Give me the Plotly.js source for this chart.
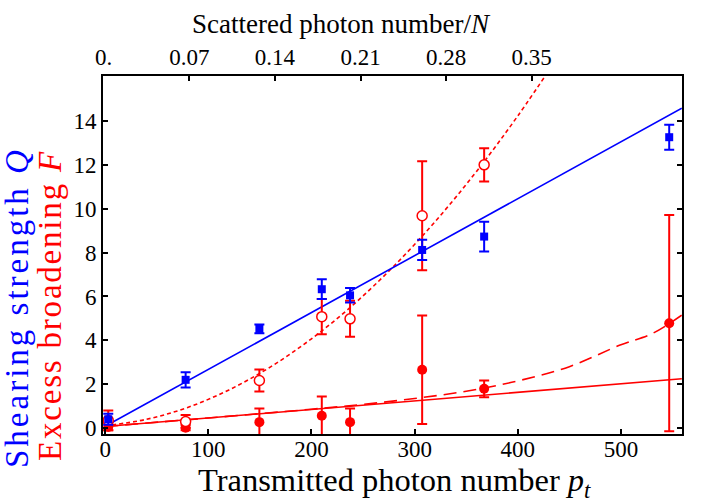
<!DOCTYPE html>
<html>
<head>
<meta charset="utf-8">
<script src="https://cdn.plot.ly/plotly-3.0.1.min.js"></script>
<style>
  html, body { margin: 0; padding: 0; background: #fff; }
  #chart { width: 717px; height: 502px; }
</style>
</head>
<body>
<div id="chart"></div>
<script>
// Transmitted photon number for each measurement
const pt = [3, 78, 149.5, 210, 237.4, 307.3, 367.4, 546.8];

// Shearing strength Q (blue squares) with errors
const shearQ = [0.4, 2.2, 4.52, 6.33, 6.05, 8.12, 8.73, 13.26];
const shearQErr = [0.25, 0.35, 0.2, 0.45, 0.33, 0.46, 0.68, 0.57];

// Excess broadening F, open circles (no point at the last pt)
const ptOpen = [3, 78, 149.5, 210, 237.4, 307.3, 367.4];
const broadOpen = [0.35, 0.3, 2.17, 5.08, 4.98, 9.68, 12.0];
const broadOpenErr = [0.45, 0.3, 0.5, 0.8, 0.82, 2.48, 0.76];

// Excess broadening F, filled circles
const broadFilled = [0.05, 0.02, 0.27, 0.56, 0.27, 2.66, 1.79, 4.78];
const broadFilledErr = [0.15, 0.12, 0.62, 0.88, 0.62, 2.47, 0.38, 4.93];

// Fit curves
const fitQPt = [0, 559];
const fitQ = [0.08, 14.58];
const fitLinPt = [0, 559];
const fitLin = [0.07, 2.25];
const fitOpenPt = [0, 40, 80, 120, 160, 200, 240, 280, 320, 360, 400, 440];
const fitOpen = [0.1, 0.4, 0.94, 1.74, 2.78, 4.07, 5.6, 7.39, 9.42, 11.7, 14.23, 17.0];
const fitDashPt = [0, 100, 200, 250, 300, 350, 400, 450, 500, 530, 559];
const fitDash = [0.07, 0.46, 0.86, 1.08, 1.35, 1.68, 2.15, 2.8, 3.8, 4.3, 5.15];

// Tick labels
const bottomTicks = [0, 100, 200, 300, 400, 500];
const topTicks = [0, 0.07, 0.14, 0.21, 0.28, 0.35];
const topTickText = ['0.', '0.07', '0.14', '0.21', '0.28', '0.35'];
const leftTicks = [0, 2, 4, 6, 8, 10, 12, 14];

const BLUE = '#0000ff';
const RED = '#ff0000';
const FONT = 'Liberation Serif';

const traces = [
  { x: fitLinPt, y: fitLin, mode: 'lines', line: { color: RED, width: 1.6 }, hoverinfo: 'skip' },
  { x: fitDashPt, y: fitDash, mode: 'lines', line: { color: RED, width: 1.6, dash: '13px,7px', shape: 'spline' }, hoverinfo: 'skip' },
  { x: fitOpenPt, y: fitOpen, mode: 'lines', line: { color: RED, width: 1.6, dash: '4px,3px', shape: 'spline' }, hoverinfo: 'skip' },
  { x: fitQPt, y: fitQ, mode: 'lines', line: { color: BLUE, width: 1.6 }, hoverinfo: 'skip' },
  {
    x: pt, y: broadFilled, mode: 'markers',
    marker: { color: RED, size: 10, symbol: 'circle' },
    error_y: { type: 'data', array: broadFilledErr, color: RED, thickness: 2, width: 5 }
  },
  {
    x: ptOpen, y: broadOpen, mode: 'markers',
    marker: { color: '#ffffff', size: 10, symbol: 'circle', line: { color: RED, width: 1.5 } },
    error_y: { type: 'data', array: broadOpenErr, color: RED, thickness: 2, width: 5 }
  },
  {
    x: pt, y: shearQ, mode: 'markers',
    marker: { color: BLUE, size: 8, symbol: 'square' },
    error_y: { type: 'data', array: shearQErr, color: BLUE, thickness: 2, width: 5 }
  },
  // invisible trace that carries the top axis
  { x: [0, 0.35], y: [0, 0], xaxis: 'x2', mode: 'markers', marker: { opacity: 0 }, hoverinfo: 'skip' }
];

const layout = {
  width: 717, height: 502,
  margin: { l: 103, r: 35, t: 76, b: 68 },
  paper_bgcolor: '#fff', plot_bgcolor: '#fff',
  showlegend: false,
  font: { family: FONT, color: '#000', size: 22 },
  xaxis: {
    range: [-2.1, 559.2],
    tickvals: bottomTicks,
    ticks: 'inside', ticklen: 5, tickwidth: 2, tickcolor: '#000',
    showline: true, linecolor: '#000', linewidth: 2, mirror: true,
    showgrid: false, zeroline: false,
    ticklabelstandoff: -7,
    tickfont: { size: 23, family: FONT, color: '#000' }
  },
  xaxis2: {
    overlaying: 'x', side: 'top', anchor: 'y',
    range: [-0.0006, 0.4729],
    tickvals: topTicks, ticktext: topTickText,
    ticks: 'inside', ticklen: 5, tickwidth: 2, tickcolor: '#000',
    showline: true, linecolor: '#000', linewidth: 2,
    showgrid: false, zeroline: false,
    tickfont: { size: 23, family: FONT, color: '#000' }
  },
  yaxis: {
    range: [-0.27, 16.05],
    tickvals: leftTicks,
    ticks: 'inside', ticklen: 5, tickwidth: 2, tickcolor: '#000',
    showline: true, linecolor: '#000', linewidth: 2, mirror: 'ticks',
    showgrid: false, zeroline: false,
    tickfont: { size: 23, family: FONT, color: '#000' }
  },
  annotations: [
    {
      text: 'Scattered photon number/<i>N</i>',
      xref: 'paper', yref: 'paper', x: (341 - 103) / 579, y: 1, yshift: 52,
      xanchor: 'center', yanchor: 'middle', showarrow: false,
      font: { size: 27, family: FONT, color: '#000' }
    },
    {
      text: 'Transmitted photon number <i>p</i><sub><i>t</i></sub>',
      xref: 'paper', yref: 'paper', x: (394 - 103) / 579, y: 0, yshift: -48,
      xanchor: 'center', yanchor: 'middle', showarrow: false,
      font: { size: 32.5, family: FONT, color: '#000' }
    },
    {
      text: '<span style="letter-spacing:3px">Shearing strength <i>Q</i></span>',
      xref: 'paper', yref: 'paper', x: 0, xshift: -86, y: (434 - 308) / 358,
      xanchor: 'center', yanchor: 'middle', textangle: -90, showarrow: false,
      font: { size: 33, family: FONT, color: BLUE }
    },
    {
      text: '<span style="letter-spacing:1.8px">Excess broadening <i>F</i></span>',
      xref: 'paper', yref: 'paper', x: 0, xshift: -53, y: (434 - 306) / 358,
      xanchor: 'center', yanchor: 'middle', textangle: -90, showarrow: false,
      font: { size: 33, family: FONT, color: RED }
    }
  ]
};

Plotly.newPlot('chart', traces, layout, { staticPlot: true, displayModeBar: false });
</script>
</body>
</html>
